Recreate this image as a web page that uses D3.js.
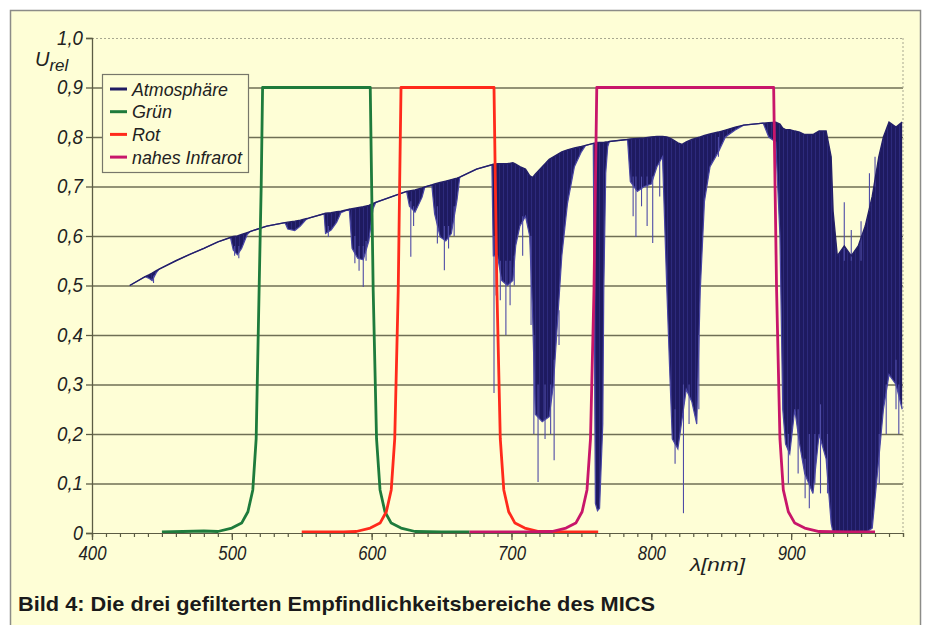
<!DOCTYPE html>
<html>
<head>
<meta charset="utf-8">
<script src="https://cdn.jsdelivr.net/npm/d3@7"></script>
<style>
body { margin: 0; background: #fff; }
svg text { font-family: "Liberation Sans Narrow", "Arial Narrow", "Liberation Sans", sans-serif; }
</style>
</head>
<body>
<svg></svg>
<script>
// tick labels / axis
const xMajor = [400, 500, 600, 700, 800, 900];
const yTicks = [0, 0.1, 0.2, 0.3, 0.4, 0.5, 0.6, 0.7, 0.8, 0.9, 1.0];

// filter curves
const greenLambda = [450, 480, 490, 500, 507, 511.5, 515, 517.4, 519.5, 521, 522, 599, 600, 601.1, 603.5, 606, 609.5, 614, 621, 631, 650, 670];
const greenValue  = [0.002, 0.004, 0.003, 0.01, 0.02, 0.043, 0.087, 0.19, 0.49, 0.7, 0.9, 0.9, 0.7, 0.49, 0.19, 0.087, 0.043, 0.02, 0.01, 0.003, 0.002, 0.002];
const redLambda = [550, 580, 589, 599, 606, 610.5, 614, 616.5, 619, 620, 621, 687.5, 688.5, 689.6, 692, 694.5, 698, 702.5, 709.5, 719.5, 740, 762];
const redValue  = [0.002, 0.002, 0.003, 0.01, 0.02, 0.043, 0.087, 0.19, 0.49, 0.7, 0.9, 0.9, 0.7, 0.49, 0.19, 0.087, 0.043, 0.02, 0.01, 0.003, 0.002, 0.002];
const irLambda = [670, 710, 729, 739, 746, 750.5, 754, 756.5, 759, 760, 761, 887.5, 888.5, 889.6, 892, 894.4, 898, 902.6, 909.7, 920, 940, 960];
const irValue  = [0.002, 0.002, 0.003, 0.01, 0.02, 0.043, 0.087, 0.19, 0.49, 0.7, 0.9, 0.9, 0.7, 0.49, 0.19, 0.087, 0.043, 0.02, 0.01, 0.003, 0.002, 0.002];

// atmosphere: [lambda, upper edge, lower edge] of the dense line forest
const atmEnvelope = [
	[427, 0.500, 0.500], [438, 0.518, 0.518], [441, 0.522, 0.514], [443, 0.525, 0.510], [446, 0.530, 0.526],
	[448, 0.533, 0.533], [460, 0.550, 0.550], [470, 0.563, 0.563], [480, 0.575, 0.575], [490, 0.588, 0.588],
	[499, 0.597, 0.597], [501, 0.599, 0.572], [504, 0.600, 0.562], [507, 0.603, 0.575], [511, 0.607, 0.603],
	[513, 0.609, 0.609], [525, 0.620, 0.620], [538, 0.627, 0.627], [540, 0.628, 0.614], [545, 0.630, 0.611],
	[549, 0.632, 0.620], [553, 0.635, 0.633], [555, 0.636, 0.636], [566, 0.645, 0.645], [567, 0.646, 0.605],
	[571, 0.647, 0.612], [575, 0.649, 0.628], [578, 0.650, 0.647], [584, 0.654, 0.654], [586, 0.655, 0.575],
	[590, 0.657, 0.555], [594, 0.659, 0.552], [598, 0.662, 0.590], [601, 0.666, 0.655], [603, 0.668, 0.668],
	[615, 0.680, 0.680], [625, 0.690, 0.690], [627, 0.691, 0.660], [631, 0.693, 0.648], [636, 0.697, 0.678],
	[638, 0.699, 0.699], [643, 0.703, 0.703], [645, 0.705, 0.645], [649, 0.708, 0.598], [653, 0.711, 0.590],
	[657, 0.714, 0.605], [661, 0.717, 0.672], [663, 0.719, 0.719], [675, 0.735, 0.735], [686, 0.744, 0.744],
	[687, 0.745, 0.560], [690, 0.746, 0.560], [693, 0.746, 0.510], [697, 0.746, 0.500], [701, 0.748, 0.510],
	[703, 0.745, 0.580], [706, 0.740, 0.620], [710, 0.735, 0.640], [713, 0.722, 0.600], [715, 0.718, 0.450],
	[717, 0.725, 0.240], [722, 0.740, 0.225], [727, 0.755, 0.235], [730, 0.760, 0.300], [733, 0.765, 0.430],
	[736, 0.770, 0.560], [740, 0.774, 0.665], [745, 0.778, 0.740], [750, 0.781, 0.770], [753, 0.783, 0.783],
	[758.5, 0.787, 0.787], [760, 0.788, 0.060], [761.5, 0.789, 0.045], [763, 0.789, 0.050], [765.3, 0.789, 0.220],
	[766, 0.789, 0.490], [767.4, 0.790, 0.727], [768.8, 0.790, 0.780], [770, 0.791, 0.791], [783, 0.795, 0.795],
	[785, 0.796, 0.710], [790, 0.797, 0.690], [795, 0.798, 0.700], [800, 0.800, 0.705], [804, 0.801, 0.740],
	[808, 0.801, 0.760], [811, 0.800, 0.500], [813, 0.798, 0.340], [815, 0.795, 0.190], [819, 0.788, 0.170],
	[822, 0.785, 0.230], [825, 0.790, 0.290], [829, 0.795, 0.265], [832.5, 0.798, 0.220], [835, 0.800, 0.490],
	[838, 0.803, 0.670], [842, 0.806, 0.740], [848, 0.810, 0.770], [853, 0.814, 0.800], [860, 0.820, 0.814],
	[866, 0.824, 0.824], [880, 0.828, 0.828], [884, 0.829, 0.800], [889, 0.830, 0.790], [892, 0.826, 0.600],
	[894, 0.818, 0.250], [896, 0.815, 0.180], [899, 0.815, 0.160], [902.6, 0.812, 0.250], [906, 0.810, 0.180],
	[909.7, 0.805, 0.120], [915.6, 0.805, 0.080], [920, 0.812, 0.200], [925, 0.812, 0.150], [928.6, 0.760, 0.020],
	[930, 0.650, 0.000], [933, 0.560, 0.000], [938, 0.580, 0.000], [943, 0.560, 0.000], [948, 0.580, 0.000],
	[953, 0.620, 0.000], [958, 0.680, 0.010], [962.7, 0.760, 0.150], [966, 0.800, 0.250], [970, 0.830, 0.320],
	[975, 0.820, 0.300], [979.4, 0.830, 0.250]
];

// single absorption lines sticking out of the forest: [lambda, from, to]
const atmSpikes = [
	[444, 0.52, 0.505], [502, 0.58, 0.560], [505, 0.58, 0.555], [569, 0.62, 0.598],
	[588, 0.60, 0.545], [591, 0.58, 0.530], [594, 0.58, 0.497], [596, 0.59, 0.550],
	[628, 0.67, 0.558], [630, 0.66, 0.620], [647, 0.66, 0.585], [652, 0.62, 0.531], [655, 0.62, 0.575], [659, 0.66, 0.600],
	[687.5, 0.60, 0.283], [689, 0.58, 0.480], [692, 0.55, 0.470], [696, 0.55, 0.400], [699, 0.55, 0.460], [702, 0.56, 0.500],
	[708, 0.64, 0.560], [714, 0.60, 0.420], [716, 0.40, 0.200], [719, 0.30, 0.103], [724, 0.30, 0.190], [728, 0.30, 0.200],
	[730.5, 0.35, 0.147], [734, 0.45, 0.380],
	[787, 0.72, 0.640], [789, 0.72, 0.598], [793, 0.72, 0.660], [797, 0.72, 0.620], [801, 0.72, 0.586], [806, 0.75, 0.680],
	[817, 0.25, 0.140], [823, 0.30, 0.040], [827, 0.30, 0.220], [834, 0.40, 0.250], [848, 0.80, 0.760],
	[898, 0.20, 0.100], [905, 0.25, 0.120], [910, 0.15, 0.070], [913, 0.20, 0.050], [917, 0.20, 0.100],
	[921, 0.26, 0.080], [926, 0.20, 0.080], [963, 0.20, 0.100], [968, 0.30, 0.200], [975, 0.35, 0.250], [977, 0.30, 0.200],
	[938, 0.55, 0.668], [943, 0.55, 0.612], [950, 0.55, 0.630], [956, 0.65, 0.727], [960, 0.70, 0.760]
];

const legendNames = ['Atmosphäre', 'Grün', 'Rot', 'nahes Infrarot'];
const legendColors = ['#1f1b62', '#1e7b3c', '#ff2a1c', '#c8166a'];

const width = 930, height = 625;
const svg = d3.select('svg').attr('width', width).attr('height', height);

const x = d3.scaleLinear().domain([400, 980]).range([92, 903]);
const y = d3.scaleLinear().domain([0, 1]).range([533, 38]);

// frame
svg.append('rect')
	.attr('x', 10.5).attr('y', 10.5)
	.attr('width', 910).attr('height', 625)
	.attr('fill', '#fefed6')
	.attr('stroke', '#8c8c88').attr('stroke-width', 1.5);

const defs = svg.append('defs');
const pat = defs.append('pattern')
	.attr('id', 'hatch').attr('patternUnits', 'userSpaceOnUse')
	.attr('width', 4).attr('height', 10);
pat.append('rect').attr('width', 4).attr('height', 10).attr('fill', '#1e1a60');
pat.append('rect').attr('x', 3).attr('width', 1).attr('height', 10).attr('fill', '#2d2a7c');

// grid
const grid = svg.append('g')
	.attr('transform', 'translate(92,0)')
	.call(d3.axisLeft(y).tickValues(yTicks.slice(1)).tickSize(-811).tickFormat(''));
grid.select('.domain').remove();
grid.selectAll('line')
	.attr('stroke', d => d === 1 ? '#a8a890' : '#6f6f55')
	.attr('stroke-width', d => d === 1 ? 1 : 1.3)
	.attr('stroke-dasharray', d => d === 1 ? '2,2' : null);

// right border of plot area
svg.append('line')
	.attr('x1', 903).attr('x2', 903).attr('y1', 38).attr('y2', 533)
	.attr('stroke', '#a8a890').attr('stroke-dasharray', '2,2');

// atmosphere
svg.append('path')
	.datum(atmEnvelope)
	.attr('fill', 'url(#hatch)')
	.attr('d', d3.area().x(d => x(d[0])).y0(d => y(d[2])).y1(d => y(d[1])));
svg.append('path')
	.datum(atmEnvelope)
	.attr('fill', 'none').attr('stroke', '#4a47a6').attr('stroke-width', 1.2)
	.attr('d', d3.line().x(d => x(d[0])).y(d => y(d[2])));
svg.append('g').selectAll('line')
	.data(atmSpikes)
	.enter().append('line')
		.attr('x1', d => x(d[0])).attr('x2', d => x(d[0]))
		.attr('y1', d => y(d[1])).attr('y2', d => y(d[2]))
		.attr('stroke', '#4e4ba6').attr('stroke-width', 1.1);
svg.append('path')
	.datum(atmEnvelope)
	.attr('fill', 'none').attr('stroke', '#231f68').attr('stroke-width', 1.4)
	.attr('d', d3.line().x(d => x(d[0])).y(d => y(d[1])));

// filters
const filters = [
	[greenLambda, greenValue, legendColors[1]],
	[redLambda, redValue, legendColors[2]],
	[irLambda, irValue, legendColors[3]]
];
const fLine = d3.line().x(d => x(d[0])).y(d => y(d[1]));
filters.forEach(f => {
	svg.append('path')
		.datum(d3.zip(f[0], f[1]))
		.attr('fill', 'none')
		.attr('stroke', f[2]).attr('stroke-width', 2.8)
		.attr('stroke-linejoin', 'round')
		.attr('d', fLine);
});

// axes
const axisColor = '#5c5c44';
const yAxis = svg.append('g')
	.attr('transform', 'translate(92,0)')
	.call(d3.axisLeft(y).tickValues(yTicks).tickSize(6).tickPadding(3)
		.tickFormat(d => d === 0 ? '0' : d3.format('.1f')(d).replace('.', ',')));
yAxis.selectAll('line, path').attr('stroke', axisColor).attr('stroke-width', 1.3);
yAxis.selectAll('text')
	.attr('font-size', 20).attr('font-style', 'italic').attr('fill', '#222')
	.attr('textLength', d => d === 0 ? 10 : 26).attr('lengthAdjust', 'spacingAndGlyphs');

const xMinor = svg.append('g')
	.attr('transform', 'translate(0,533)')
	.call(d3.axisBottom(x).tickValues(d3.range(400, 981, 10)).tickSize(4).tickFormat(''));
xMinor.selectAll('line, path').attr('stroke', axisColor).attr('stroke-width', 1.2);
const xAxis = svg.append('g')
	.attr('transform', 'translate(0,533)')
	.call(d3.axisBottom(x).tickValues(xMajor).tickSize(7).tickPadding(6).tickFormat(d3.format('d')));
xAxis.select('.domain').remove();
xAxis.selectAll('line').attr('stroke', axisColor).attr('stroke-width', 1.3);
xAxis.selectAll('text')
	.attr('font-size', 20).attr('font-style', 'italic').attr('fill', '#222')
	.attr('textLength', 28).attr('lengthAdjust', 'spacingAndGlyphs');

// axis titles
const ut = svg.append('text')
	.attr('x', 35).attr('y', 66)
	.attr('font-size', 20).attr('font-style', 'italic').attr('fill', '#222');
ut.append('tspan').text('U');
ut.append('tspan').attr('dy', 5).attr('font-size', 17).text('rel');

svg.append('text')
	.attr('x', 690).attr('y', 571)
	.attr('font-size', 19).attr('font-style', 'italic').attr('fill', '#222')
	.attr('textLength', 55).attr('lengthAdjust', 'spacingAndGlyphs')
	.text('λ[nm]');

// legend
const lg = svg.append('g');
lg.append('rect')
	.attr('x', 102.5).attr('y', 74.5).attr('width', 146).attr('height', 98)
	.attr('fill', '#fefed6').attr('stroke', '#77776a').attr('stroke-width', 1.2);
legendNames.forEach((name, i) => {
	const yy = 89 + i * 22.7;
	lg.append('line')
		.attr('x1', 110).attr('x2', 127).attr('y1', yy).attr('y2', yy)
		.attr('stroke', legendColors[i]).attr('stroke-width', 3);
	lg.append('text')
		.attr('x', 132).attr('y', yy + 6.5)
		.attr('font-size', 19).attr('font-style', 'italic').attr('fill', '#222')
		.attr('textLength', [96, 40, 28, 110][i]).attr('lengthAdjust', 'spacingAndGlyphs')
		.text(name);
});

// caption
svg.append('text')
	.attr('x', 18).attr('y', 611)
	.attr('font-size', 21).attr('font-weight', 'bold').attr('fill', '#1a1a1a')
	.attr('textLength', 637).attr('lengthAdjust', 'spacingAndGlyphs')
	.text('Bild 4: Die drei gefilterten Empfindlichkeitsbereiche des MICS');
</script>
</body>
</html>
